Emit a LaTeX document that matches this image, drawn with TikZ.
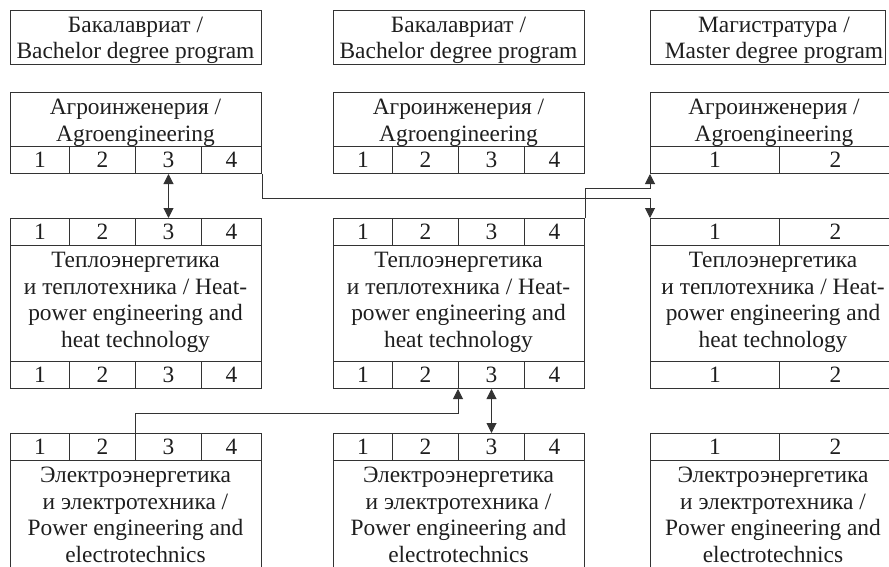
\documentclass[tikz,border=0pt]{standalone}
\usepackage{fontspec}
\setmainfont{Liberation Serif}
\usetikzlibrary{arrows.meta}
\definecolor{linec}{HTML}{333333}
\definecolor{textc}{HTML}{1E1E1E}
\newcommand\mkcells[3]{%
  \foreach \ca/\cb/\cl in #3 {%
    \pgfmathsetmacro\cw{\cb-\ca}%
    \node[cell,minimum width=\cw] (#1\cl) at (\ca,#2) {\cl};}}
\def\Lc{10/69/1,69/135/2,135/201/3,201/261/4}
\def\Mc{333/392/1,392/458/2,458/524/3,524/584/4}
\def\Rc{650/779/1,779/891/2}
\begin{document}
\begin{tikzpicture}[x=1pt,y=-1pt,line width=1pt,
  txt/.style={font=\fontsize{23.4}{26.5}\selectfont, text=textc},
  htxt/.style={font=\fontsize{23.4}{25.5}\selectfont, text=textc},
  box/.style={draw=linec, inner sep=0pt, anchor=north west},
  lbl/.style={inner sep=0pt, anchor=north, align=center, txt},
  hlbl/.style={inner sep=0pt, anchor=north, align=center, htxt},
  cell/.style={draw=linec, inner sep=0pt, anchor=north west, minimum height=27, txt},
  conn/.style={draw=linec, line width=1pt},
  tip/.style={-{Triangle[length=10pt,width=10pt]}},
  dtip/.style={{Triangle[length=10pt,width=10pt]}-{Triangle[length=10pt,width=10pt]}}]
\useasboundingbox (0,0) rectangle (889,567);
\clip (0,0) rectangle (889,567);

% headers
\node[box, minimum width=251, minimum height=54] (hL) at (10,10) {};
\node[box, minimum width=251, minimum height=54] (hM) at (333,10) {};
\node[box, minimum width=235, minimum height=54] (hR) at (650,10) {};
\node[hlbl] (hLt) at (135.5,16.6) {Бакалавриат /\\Bachelor degree program};
\node[hlbl] (hMt) at (458.5,16.6) {Бакалавриат /\\Bachelor degree program};
\node[hlbl] (hRt) at (774,16.6) {Магистратура /\\Master degree program};

% Agroengineering row
\node[box, minimum width=251, minimum height=54] (LAb) at (10,92) {};
\node[box, minimum width=251, minimum height=54] (MAb) at (333,92) {};
\node[box, minimum width=241, minimum height=54] (RAb) at (650,92) {};
\node[lbl] (LAt) at (135.5,98.6) {Агроинженерия /\\Agroengineering};
\node[lbl] (MAt) at (458.5,98.6) {Агроинженерия /\\Agroengineering};
\node[lbl] (RAt) at (774,98.6) {Агроинженерия /\\Agroengineering};
\mkcells{LA}{146}{\Lc}
\mkcells{MA}{146}{\Mc}
\mkcells{RA}{146}{\Rc}

% Heat-power row
\mkcells{LT}{218}{\Lc}
\mkcells{MT}{218}{\Mc}
\mkcells{RT}{218}{\Rc}
\node[box, minimum width=251, minimum height=116] (LTb) at (10,245) {};
\node[box, minimum width=251, minimum height=116] (MTb) at (333,245) {};
\node[box, minimum width=241, minimum height=116] (RTb) at (650,245) {};
\node[lbl] (LTt) at (135.5,252) {Теплоэнергетика\\и теплотехника / Heat-\\power engineering and\\heat technology};
\node[lbl] (MTt) at (458.5,252) {Теплоэнергетика\\и теплотехника / Heat-\\power engineering and\\heat technology};
\node[lbl] (RTt) at (773,252) {Теплоэнергетика\\и теплотехника / Heat-\\power engineering and\\heat technology};
\mkcells{LB}{361}{\Lc}
\mkcells{MB}{361}{\Mc}
\mkcells{RB}{361}{\Rc}

% Power engineering row
\mkcells{LE}{433}{\Lc}
\mkcells{ME}{433}{\Mc}
\mkcells{RE}{433}{\Rc}
\node[box, minimum width=251, minimum height=116] (LEb) at (10,460) {};
\node[box, minimum width=251, minimum height=116] (MEb) at (333,460) {};
\node[box, minimum width=241, minimum height=116] (REb) at (650,460) {};
\node[lbl] (LEt) at (135.5,467) {Электроэнергетика\\и электротехника /\\Power engineering and\\electrotechnics};
\node[lbl] (MEt) at (458.5,467) {Электроэнергетика\\и электротехника /\\Power engineering and\\electrotechnics};
\node[lbl] (REt) at (773,467) {Электроэнергетика\\и электротехника /\\Power engineering and\\electrotechnics};

% connectors
\draw[conn, dtip] (LA3.south) -- (LT3.north);
\draw[conn, tip] (LA4.south east) -- ++(0,24) -| (RT1.north west);
\draw[conn, tip] (MT4.north east) -- ++(0,-30) -| (RA1.south west);
\draw[conn, tip] (LE3.north west) -- ++(0,-20) -| (MB3.south west);
\draw[conn, dtip] (MB3.south) -- (ME3.north);
\end{tikzpicture}
\end{document}
